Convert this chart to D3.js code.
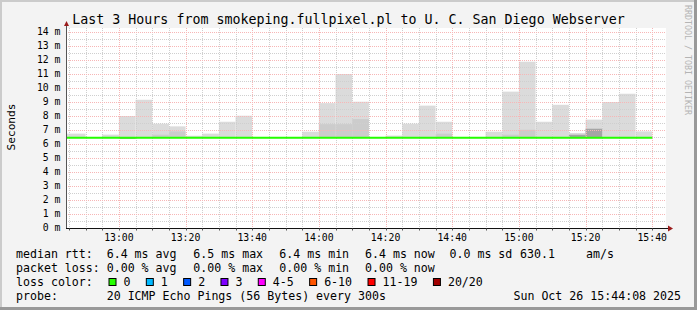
<!DOCTYPE html>
<html>
<head>
<meta charset="utf-8">
<title>smokeping</title>
<script src="https://cdn.jsdelivr.net/npm/d3@7"></script>
<style>
  body { margin: 0; background: #f3f3f3; }
  text { font-family: 'DejaVu Sans Mono', monospace; }
</style>
</head>
<body>
<div id="chart"></div>
<script>
// 5 minute slots (start time), smoke layers in ms
var slotStart = ["12:40","12:45","12:50","12:55","13:00","13:05","13:10","13:15","13:20","13:25",
  "13:30","13:35","13:40","13:45","13:50","13:55","14:00","14:05","14:10","14:15",
  "14:20","14:25","14:30","14:35","14:40","14:45","14:50","14:55","15:00","15:05",
  "15:10","15:15","15:20","15:25","15:30","15:35"];
var smokeMax = [6.74,6.74,6.45,6.67,8.00,9.16,7.45,7.26,6.59,6.74,
  7.59,8.02,6.45,6.45,6.45,6.88,8.92,11.00,9.02,6.45,
  6.60,7.45,8.74,7.59,6.45,6.45,6.88,9.74,11.88,7.59,
  8.80,6.78,7.74,9.00,9.59,6.90];
var smokeMid = [6.45,6.45,6.45,6.45,6.45,6.45,6.67,6.90,6.45,6.45,
  6.45,6.45,6.45,6.45,6.45,6.45,7.42,7.42,7.78,6.45,
  6.45,6.45,6.45,6.74,6.45,6.45,6.45,6.67,7.02,6.45,
  6.45,6.45,6.45,6.45,6.45,6.45];
var smokeDark = [6.42,6.42,6.42,6.42,6.42,6.42,6.42,6.42,6.42,6.42,
  6.42,6.42,6.42,6.42,6.42,6.42,6.42,6.42,6.42,6.42,
  6.42,6.42,6.42,6.42,6.42,6.42,6.42,6.42,6.42,6.42,
  6.42,6.66,7.09,6.42,6.42,6.42];
var smokeMin = [6.42,6.42,6.42,6.42,6.36,6.42,6.42,6.42,6.42,6.42,
  6.42,6.42,6.42,6.42,6.42,6.42,6.42,6.42,6.42,6.42,
  6.42,6.42,6.42,6.42,6.42,6.42,6.42,6.42,6.42,6.42,
  6.42,6.42,6.42,6.42,6.42,6.42];
var medianRtt = [6.45,6.45,6.45,6.45,6.45,6.45,6.45,6.45,6.45,6.45,
  6.45,6.45,6.45,6.45,6.45,6.45,6.45,6.45,6.45,6.45,
  6.45,6.45,6.45,6.45,6.45,6.45,6.45,6.45,6.45,6.45,
  6.45,6.45,6.45,6.45,6.45,6.45];

var yTicks = [0,1,2,3,4,5,6,7,8,9,10,11,12,13,14];
var rttLegend = ["6.4 ms avg","6.5 ms max","6.4 ms min","6.4 ms now","0.0 ms sd","630.1","am/s"];
var lossLegend = ["0.00 % avg","0.00 % max","0.00 % min","0.00 % now"];
var lossLabels = ["0","1","2","3","4-5","6-10","11-19","20/20"];
var lossColors = ["#26ff00","#00b8ff","#0059ff","#7e00ff","#ff00ff","#ff5500","#ff0000","#a10000"];

var width = 697, height = 310;
var margin = { left: 66, right: 31, top: 28, bottom: 82 };
var parseT = d3.utcParse("%Y-%m-%d %H:%M:%S");
var tStart = parseT("2025-10-26 12:44:08"), tEnd = parseT("2025-10-26 15:44:08");

var xScale = d3.scaleUtc().domain([tStart, tEnd]).range([margin.left, width - margin.right]);
var yScale = d3.scaleLinear().domain([0, 200 / 14]).range([height - margin.bottom, margin.top]);

var svg = d3.select('#chart').append('svg')
  .attr('width', width).attr('height', height);

svg.append('rect').attr('width', width).attr('height', height).attr('fill', '#f3f3f3');
// 3d border
svg.append('rect').attr('x', 0).attr('y', 0).attr('width', width).attr('height', 2).attr('fill', '#cbcbcb');
svg.append('rect').attr('x', 0).attr('y', 0).attr('width', 2).attr('height', height).attr('fill', '#cbcbcb');
svg.append('rect').attr('x', 0).attr('y', height - 3).attr('width', width).attr('height', 3).attr('fill', '#999');
svg.append('rect').attr('x', width - 3).attr('y', 0).attr('width', 3).attr('height', height).attr('fill', '#999');

// canvas
svg.append('rect')
  .attr('x', margin.left).attr('y', margin.top)
  .attr('width', width - margin.left - margin.right)
  .attr('height', height - margin.top - margin.bottom)
  .attr('fill', 'white');

var slots = slotStart.map(function(s, i) {
  var t0 = parseT("2025-10-26 " + s + ":00");
  return { t0: t0, t1: d3.utcMinute.offset(t0, 5), max: smokeMax[i], mid: smokeMid[i],
    dark: smokeDark[i], min: smokeMin[i], med: medianRtt[i] };
});

function bars(key, color) {
  svg.append('g').selectAll('rect').data(slots).enter().append('rect')
    .attr('x', function(d) { return Math.max(xScale(d.t0), margin.left + 1); })
    .attr('width', function(d) { return xScale(d.t1) - Math.max(xScale(d.t0), margin.left + 1); })
    .attr('y', function(d) { return yScale(d[key]); })
    .attr('height', function(d) { return Math.max(0, yScale(d.min) - yScale(d[key])); })
    .attr('fill', color);
}
bars('max', '#dbdbdb');
bars('mid', '#cccccc');
bars('dark', '#a5a5a5');

// grid
var grid = svg.append('g').attr('shape-rendering', 'crispEdges');
var minorX = d3.utcMinute.every(5).range(tStart, tEnd);
var majorX = d3.utcMinute.every(20).range(tStart, tEnd);
var yMinor = d3.range(0.5, 14.5, 1);
grid.selectAll('.vminor').data(minorX.filter(function(d) { return d.getUTCMinutes() % 20 !== 0; }))
  .enter().append('line')
  .attr('x1', function(d) { return Math.round(xScale(d)) + 0.5; })
  .attr('x2', function(d) { return Math.round(xScale(d)) + 0.5; })
  .attr('y1', margin.top).attr('y2', height - margin.bottom)
  .attr('stroke', '#cfcfcf').attr('stroke-dasharray', '1,1');
grid.selectAll('.hminor').data(yMinor).enter().append('line')
  .attr('x1', margin.left).attr('x2', width - margin.right)
  .attr('y1', function(d) { return Math.round(yScale(d)) + 0.5; })
  .attr('y2', function(d) { return Math.round(yScale(d)) + 0.5; })
  .attr('stroke', '#cfcfcf').attr('stroke-dasharray', '1,1');
grid.selectAll('.vmajor').data(majorX).enter().append('line')
  .attr('x1', function(d) { return Math.round(xScale(d)) + 0.5; })
  .attr('x2', function(d) { return Math.round(xScale(d)) + 0.5; })
  .attr('y1', margin.top).attr('y2', height - margin.bottom)
  .attr('stroke', '#f7b6b6').attr('stroke-dasharray', '1,1');
grid.selectAll('.hmajor').data(yTicks.slice(1)).enter().append('line')
  .attr('x1', margin.left).attr('x2', width - margin.right)
  .attr('y1', function(d) { return Math.round(yScale(d)) + 0.5; })
  .attr('y2', function(d) { return Math.round(yScale(d)) + 0.5; })
  .attr('stroke', '#f7b6b6').attr('stroke-dasharray', '1,1');

// median line
var medLine = d3.line()
  .x(function(d) { return xScale(d.t); })
  .y(function(d) { return yScale(d.v); })
  .curve(d3.curveStepAfter);
var medPts = slots.map(function(d) { return { t: d.t0 < tStart ? tStart : d.t0, v: d.med }; });
medPts.push({ t: slots[slots.length - 1].t1, v: slots[slots.length - 1].med });
svg.append('path').datum(medPts)
  .attr('d', medLine)
  .attr('fill', 'none').attr('stroke', '#26ff00').attr('stroke-width', 2);

// axes
var y0 = Math.round(yScale(0)) + 0.5;
svg.append('line').attr('x1', margin.left + 0.5).attr('x2', margin.left + 0.5)
  .attr('y1', y0).attr('y2', margin.top - 3).attr('stroke', '#555');
svg.append('line').attr('x1', margin.left).attr('x2', width - margin.right + 3)
  .attr('y1', y0).attr('y2', y0).attr('stroke', '#111');
svg.append('path').attr('d', 'M' + (margin.left - 2) + ',' + (margin.top - 2) + 'L' + (margin.left + 3) + ',' + (margin.top - 2) + 'L' + (margin.left + 0.5) + ',' + (margin.top - 7) + 'Z')
  .attr('fill', '#9b1c1c');
var xe = width - margin.right;
svg.append('path').attr('d', 'M' + (xe + 2) + ',' + (y0 - 3) + 'L' + (xe + 2) + ',' + (y0 + 3) + 'L' + (xe + 7) + ',' + y0 + 'Z')
  .attr('fill', '#9b1c1c');
svg.append('g').selectAll('line').data(minorX).enter().append('line')
  .attr('x1', function(d) { return Math.round(xScale(d)) + 0.5; })
  .attr('x2', function(d) { return Math.round(xScale(d)) + 0.5; })
  .attr('y1', y0).attr('y2', y0 + 2).attr('stroke', '#555');

svg.append('g').selectAll('text').data(majorX).enter().append('text')
  .attr('x', function(d) { return xScale(d); })
  .attr('y', 241)
  .attr('text-anchor', 'middle').style('font-size', '9.8px')
  .text(d3.utcFormat('%H:%M'));
svg.append('g').selectAll('text').data(yTicks).enter().append('text')
  .attr('x', 60.5)
  .attr('y', function(d) { return yScale(d) + 3.4; })
  .attr('text-anchor', 'end').style('font-size', '9.8px')
  .text(function(d) { return d + ' m'; });

svg.append('text').attr('transform', 'translate(15,127) rotate(-90)')
  .attr('text-anchor', 'middle').style('font-size', '11.2px').text('Seconds');
svg.append('text').attr('x', 348.5).attr('y', 24)
  .attr('text-anchor', 'middle').style('font-size', '13.3px')
  .text('Last 3 Hours from smokeping.fullpixel.pl to U. C. San Diego Webserver');
svg.append('text').attr('transform', 'translate(684.5,5) rotate(90)')
  .style('font-size', '8.3px').attr('fill', '#b4b4b4')
  .text('RRDTOOL / TOBI OETIKER');

// legend
var fs = '11.6px';
var rttX = [106.7, 193.3, 279.3, 365, 449.5, 520, 586];
var lossX = [106.7, 193.3, 279.3, 365];
svg.append('text').attr('x', 16).attr('y', 258.3).style('font-size', fs).text('median rtt:');
svg.append('g').selectAll('text').data(rttLegend).enter().append('text')
  .attr('x', function(d, i) { return rttX[i]; }).attr('y', 258.3)
  .style('font-size', fs).text(function(d) { return d; });
svg.append('text').attr('x', 16).attr('y', 272).style('font-size', fs).text('packet loss:');
svg.append('g').selectAll('text').data(lossLegend).enter().append('text')
  .attr('x', function(d, i) { return lossX[i]; }).attr('y', 272)
  .style('font-size', fs).text(function(d) { return d; });
svg.append('text').attr('x', 16).attr('y', 285.8).style('font-size', fs).text('loss color:');
var bx = 108.5;
lossLabels.forEach(function(lbl, i) {
  svg.append('rect').attr('x', bx + 0.5).attr('y', 278.5).attr('width', 7).attr('height', 7)
    .attr('fill', lossColors[i]).attr('stroke', '#000');
  svg.append('text').attr('x', bx + 15).attr('y', 285.8).style('font-size', fs).text(lbl);
  bx = bx + 15 + lbl.length * 7.02 + 15.3;
});
svg.append('text').attr('x', 16).attr('y', 299.7).style('font-size', fs).text('probe:');
svg.append('text').attr('x', 106.7).attr('y', 299.7).style('font-size', fs)
  .text('20 ICMP Echo Pings (56 Bytes) every 300s');
svg.append('text').attr('x', 681).attr('y', 299.7).attr('text-anchor', 'end').style('font-size', fs)
  .text('Sun Oct 26 15:44:08 2025');
</script>
</body>
</html>
